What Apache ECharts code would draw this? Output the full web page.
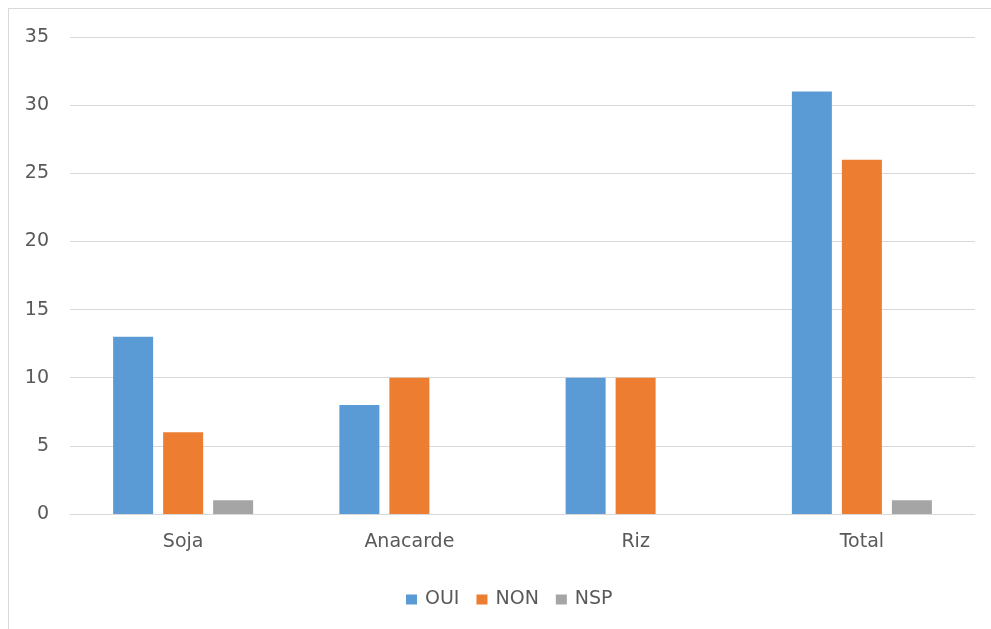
<!DOCTYPE html>
<html>
<head>
<meta charset="utf-8">
<script src="https://cdn.jsdelivr.net/npm/echarts@6/dist/echarts.min.js"></script>
<style>
  html, body { margin: 0; padding: 0; background: #fff; overflow: hidden; }
  #frame { position: absolute; left: 8px; top: 8px; width: 1000px; height: 640px; border: 1px solid #d9d9d9; }
  #chart { position: absolute; left: 0; top: 0; width: 991px; height: 629px; }
</style>
</head>
<body>
<div id="frame"></div>
<div id="chart"></div>
<script>
const categories = ["Soja", "Anacarde", "Riz", "Total"];
const oui = [13, 8, 10, 31];
const non = [6, 10, 10, 26];
const nsp = [1, 0, 0, 1];

const chart = echarts.init(document.getElementById("chart"), null, { renderer: "canvas" });
const font = "'DejaVu Sans', sans-serif";

function bar(name, data, color) {
  return {
    name, type: "bar", data,
    barWidth: 40, barGap: "25%",
    itemStyle: { color },
  };
}

chart.setOption({
  animation: false,
  textStyle: { fontFamily: font },
  grid: { left: 70, right: 16, top: 37, bottom: 115 },
  legend: {
    top: 585, left: 401,
    itemWidth: 11, itemHeight: 10, itemGap: 17,
    icon: "rect",
    textStyle: { color: "#595959", fontSize: 19, fontFamily: font, padding: [0, 0, 0, 3] },
    data: ["OUI", "NON", "NSP"],
  },
  xAxis: {
    type: "category", data: categories,
    axisLine: { lineStyle: { color: "#d9d9d9", width: 1 } },
    axisTick: { show: false },
    axisLabel: { color: "#595959", fontSize: 19, margin: 19 },
  },
  yAxis: {
    type: "value", min: 0, max: 35, interval: 5,
    axisLine: { show: false },
    axisTick: { show: false },
    axisLabel: { color: "#595959", fontSize: 19, margin: 21 },
    splitLine: { lineStyle: { color: "#d9d9d9", width: 1 } },
  },
  series: [
    bar("OUI", oui, "#5B9BD5"),
    bar("NON", non, "#ED7D31"),
    bar("NSP", nsp, "#A5A5A5"),
  ],
});
</script>
</body>
</html>
